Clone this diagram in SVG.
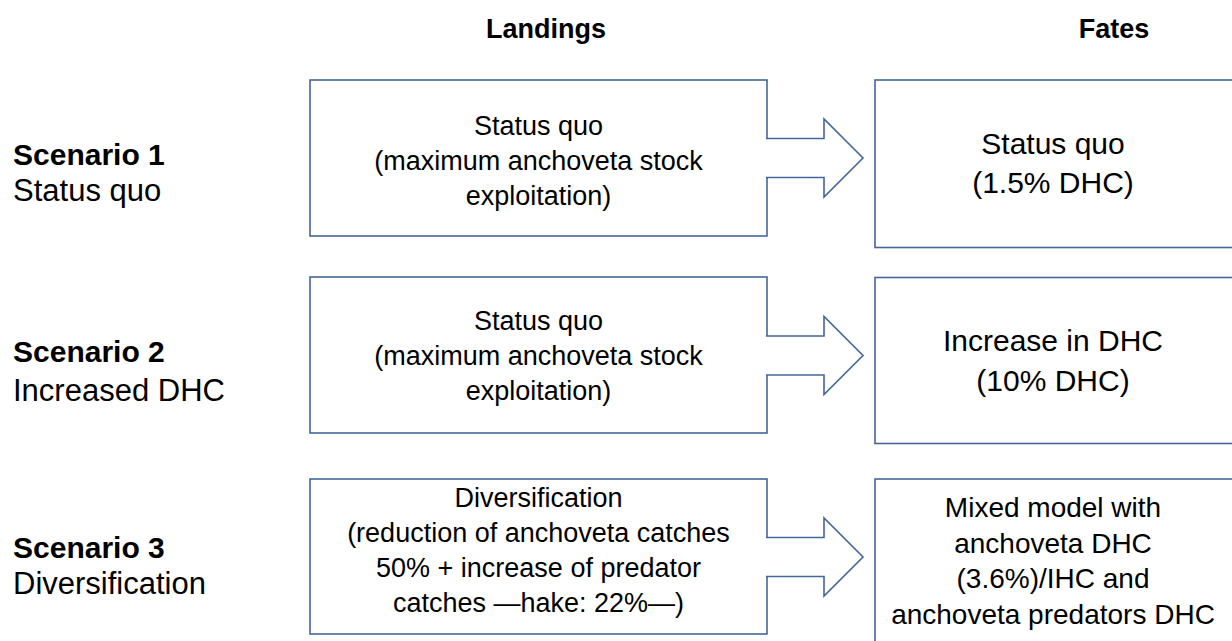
<svg xmlns="http://www.w3.org/2000/svg" width="1232" height="641" viewBox="0 0 1232 641">
<style>
.bg{fill:#fff}
.box{fill:#fff;stroke:#44679A;stroke-width:1.6}
.arrow{fill:#fff;stroke:#44679A;stroke-width:1.6;stroke-linejoin:miter}
text{font-family:"Liberation Sans",Arial,sans-serif;fill:#000}
.hdr{font-size:27px;font-weight:bold;text-anchor:middle}
.lbl{font-size:31px}
.lblb{font-size:30px;font-weight:bold}
.land{font-size:27px;text-anchor:middle}
.fate{font-size:30px;text-anchor:middle}
.fate3{font-size:28px;text-anchor:middle}
</style>
<rect class="bg" x="0" y="0" width="1232" height="641"/>
<g id="headers">
<text class="hdr" x="546" y="38">Landings</text>
<text class="hdr" x="1114" y="38">Fates</text>
</g>
<g id="scenario1-label">
<text class="lblb" x="13" y="165">Scenario 1</text>
<text class="lbl" x="13" y="201">Status quo</text>
</g>
<g id="scenario2-label">
<text class="lblb" x="13" y="362">Scenario 2</text>
<text class="lbl" x="13" y="401">Increased DHC</text>
</g>
<g id="scenario3-label">
<text class="lblb" x="13" y="558">Scenario 3</text>
<text class="lbl" x="13" y="594">Diversification</text>
</g>
<g id="landings1">
<rect class="box" x="310" y="80" width="457" height="156"/>
<text class="land" x="538.5" y="135">Status quo</text>
<text class="land" x="538.5" y="170">(maximum anchoveta stock</text>
<text class="land" x="538.5" y="205">exploitation)</text>
</g>
<g id="landings2">
<rect class="box" x="310" y="277" width="457" height="156"/>
<text class="land" x="538.5" y="330">Status quo</text>
<text class="land" x="538.5" y="365">(maximum anchoveta stock</text>
<text class="land" x="538.5" y="400">exploitation)</text>
</g>
<g id="landings3">
<rect class="box" x="310" y="479" width="457" height="155"/>
<text class="land" x="538.5" y="507">Diversification</text>
<text class="land" x="538.5" y="542">(reduction of anchoveta catches</text>
<text class="land" x="538.5" y="577">50% + increase of predator</text>
<text class="land" x="538.5" y="612">catches —hake: 22%—)</text>
</g>
<g id="fates1">
<rect class="box" x="875" y="80" width="360" height="167.5"/>
<text class="fate" x="1053" y="154">Status quo</text>
<text class="fate" x="1053" y="193">(1.5% DHC)</text>
</g>
<g id="fates2">
<rect class="box" x="875" y="277.5" width="360" height="166"/>
<text class="fate" x="1053" y="351">Increase in DHC</text>
<text class="fate" x="1053" y="391">(10% DHC)</text>
</g>
<g id="fates3">
<rect class="box" x="875" y="479" width="360" height="170"/>
<text class="fate3" x="1053" y="517">Mixed model with</text>
<text class="fate3" x="1053" y="553">anchoveta DHC</text>
<text class="fate3" x="1053" y="588">(3.6%)/IHC and</text>
<text class="fate3" x="1053" y="624">anchoveta predators DHC</text>
</g>
<g id="connectors">
<path class="arrow" d="M766,138.5 H824 V119 L863,158 L824,197 V177.5 H766"/>
<path class="arrow" d="M766,336 H824 V316.5 L863,355.5 L824,394.5 V375 H766"/>
<path class="arrow" d="M766,537.5 H824 V518 L863,557 L824,596 V576.5 H766"/>
</g>
</svg>
